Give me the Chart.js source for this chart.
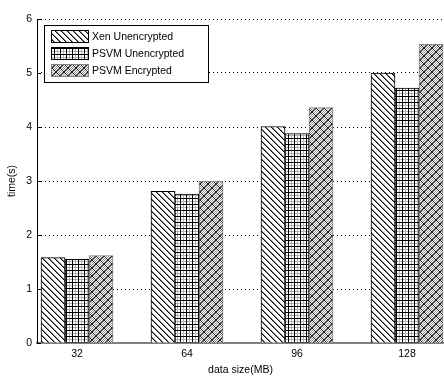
<!DOCTYPE html>
<html><head><meta charset="utf-8">
<script src="https://cdn.jsdelivr.net/npm/chart.js@4"></script>
<style>html,body{margin:0;padding:0;background:#fff;overflow:hidden}#wrap{width:444px;height:376px;position:relative}</style>
</head><body><div id="wrap"><canvas id="c" width="444" height="376"></canvas></div>
<script>
const categories = [32, 64, 96, 128];
const seriesNames = ['Xen Unencrypted', 'PSVM Unencrypted', 'PSVM Encrypted'];
const xenUnencrypted = [1.58, 2.81, 4.01, 5.00];
const psvmUnencrypted = [1.55, 2.76, 3.88, 4.72];
const psvmEncrypted = [1.62, 3.00, 4.36, 5.53];
const yTicks = [0, 1, 2, 3, 4, 5, 6];
const xTitle = 'data size(MB)';
const yTitle = 'time(s)';

function tile(w, h, fn) {
  const c = document.createElement('canvas'); c.width = w; c.height = h;
  const g = c.getContext('2d'); g.fillStyle = '#fff'; g.fillRect(0, 0, w, h);
  fn(g); return g.createPattern(c, 'repeat');
}
const ctx = document.getElementById('c').getContext('2d');
const patDiag = tile(6, 6, g => {
  for (let i = 0; i < 6; i++) { g.fillStyle = '#000'; g.fillRect(i, i, 1, 1); g.fillStyle = '#8a8a8a'; g.fillRect((i + 1) % 6, i, 1, 1); }
});
const patGrid = tile(6, 6, g => {
  g.fillStyle = '#b0b0b0'; g.fillRect(3, 0, 1, 6); g.fillRect(0, 3, 6, 1);
  g.fillStyle = '#000'; g.fillRect(0, 0, 1, 6); g.fillRect(0, 0, 6, 1);
});
const patCross = tile(8, 8, g => {
  for (let i = 0; i < 8; i++) for (let j = 0; j < 8; j++) if ((i + j) % 2 === 0) { g.fillStyle = '#969696'; g.fillRect(i, j, 1, 1); }
  for (let i = 0; i < 8; i++) { g.fillStyle = '#1a1a1a'; g.fillRect(i, i, 1, 1); g.fillRect(7 - i, i, 1, 1); }
});
const patterns = [patDiag, patGrid, patCross];
const borders = ['#000', '#000', '#808080'];
const values = [xenUnencrypted, psvmUnencrypted, psvmEncrypted];

const FONT = "'Liberation Sans', Arial, sans-serif";
const FS = 10.5;

const extras = {
  id: 'extras',
  afterDatasetsDraw(chart) {
    const c = chart.ctx, y = chart.scales.y, a = chart.chartArea;
    c.save();
    c.strokeStyle = '#000'; c.lineWidth = 1;
    // y axis line and inner tick marks
    c.beginPath(); c.moveTo(a.left + 0.5, a.top); c.lineTo(a.left + 0.5, a.bottom); c.stroke();
    yTicks.forEach(v => { const py = Math.round(y.getPixelForValue(v)) + 0.5; c.beginPath(); c.moveTo(a.left, py); c.lineTo(a.left + 4, py); c.stroke(); });
    // legend
    const bx = 44, by = 25, bw = 164, bh = 57;
    c.fillStyle = '#fff'; c.fillRect(bx, by, bw, bh);
    c.strokeStyle = '#000'; c.strokeRect(bx + 0.5, by + 0.5, bw, bh);
    chart.data.datasets.forEach((ds, i) => {
      const ry = 30 + i * 17;
      c.fillStyle = ds.backgroundColor; c.fillRect(51, ry, 38, 13);
      c.strokeStyle = ds.borderColor; c.strokeRect(51.5, ry + 0.5, 37, 12);
      c.fillStyle = '#000'; c.font = FS + 'px ' + FONT; c.textBaseline = 'middle'; c.textAlign = 'left';
      c.fillText(ds.label, 92, ry + 7);
    });
    c.restore();
  }
};

new Chart(ctx, {
  type: 'bar',
  data: {
    datasets: seriesNames.map((n, i) => ({
      label: n,
      data: categories.map((x, k) => ({ x: x, y: values[i][k] })),
      backgroundColor: patterns[i],
      borderColor: borders[i],
      borderWidth: 1,
      barThickness: 24
    }))
  },
  options: {
    responsive: false,
    animation: false,
    devicePixelRatio: 1,
    layout: { padding: { top: 19, right: 0, left: 0, bottom: 0 } },
    plugins: { legend: { display: false }, tooltip: { enabled: false } },
    scales: {
      x: {
        type: 'linear', offset: false,
        min: 20.36, max: 138.76,
        afterBuildTicks: s => { s.ticks = categories.map(v => ({ value: v })); },
        afterFit: s => { s.height = 33; },
        grid: { display: false, offset: false, drawTicks: false },
        border: { display: true, color: '#808080', width: 2 },
        ticks: { font: { family: FONT, size: FS }, color: '#000', padding: 5, autoSkip: false, maxRotation: 0, callback: v => String(v) },
        title: { display: true, text: xTitle, font: { family: FONT, size: FS }, color: '#000', padding: { top: 0, bottom: 0 } }
      },
      y: {
        min: 0, max: 6,
        afterBuildTicks: s => { s.ticks = yTicks.map(v => ({ value: v })); },
        afterFit: s => { s.width = 37; },
        grid: { color: '#000', lineWidth: 1, drawTicks: false },
        border: { display: false, dash: [1, 3] },
        ticks: { font: { family: FONT, size: FS }, color: '#000', padding: 5 },
        title: { display: true, text: yTitle, font: { family: FONT, size: FS }, color: '#000', padding: { top: 6, bottom: 0 } }
      }
    }
  },
  plugins: [extras]
});
</script>
</body></html>
